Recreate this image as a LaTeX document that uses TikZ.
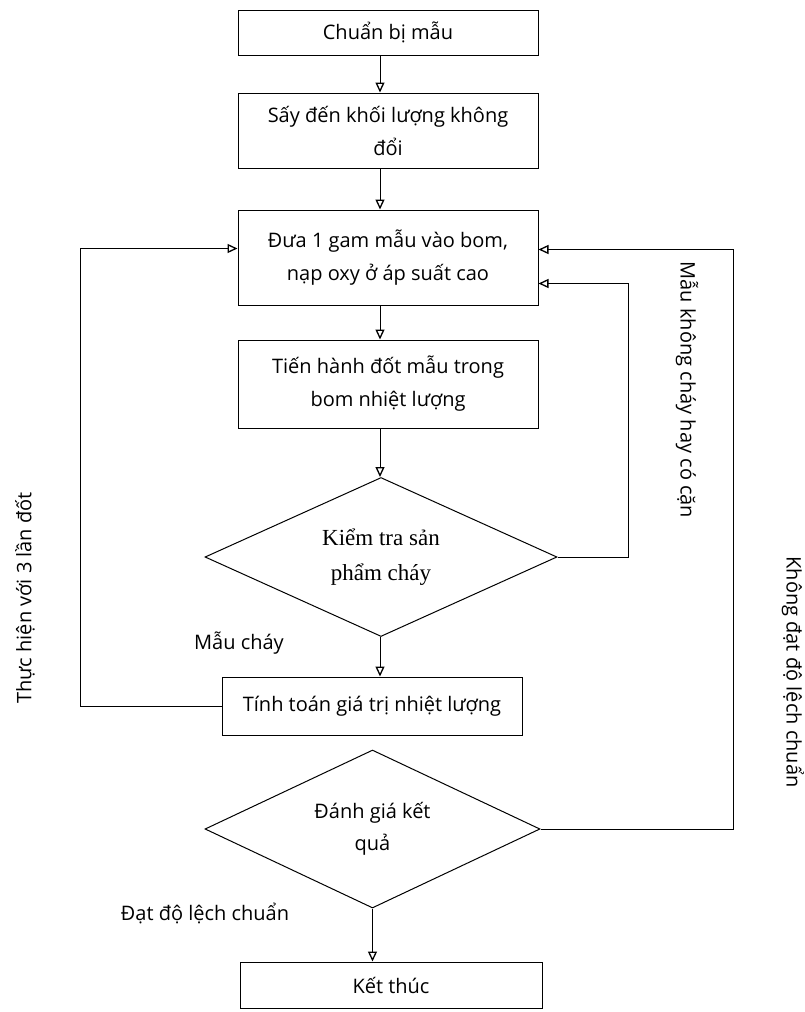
\documentclass[tikz,border=0pt]{standalone}
\usepackage{fontspec}
\setmainfont{Open Sans}
\newfontfamily\serifvn{Liberation Serif}
\usetikzlibrary{arrows.meta, positioning, shapes.geometric}

\begin{document}
\begin{tikzpicture}[
  x=1pt, y=-1pt,
  box/.style={rectangle, draw, line width=1pt, minimum width=300pt, align=center,
    font=\fontsize{20}{33}\selectfont},
  decision/.style={diamond, draw, line width=1pt, aspect=2.2, inner sep=0pt, align=center},
  flow/.style={-{Triangle[open, length=10pt, width=9pt, line width=1.3pt]}, line width=1pt},
  note/.style={font=\fontsize{20}{22}\selectfont}
]
\useasboundingbox (0,0) rectangle (804,1012);

% main column
\node[box, minimum height=45pt] (prep) at (388,32.5) {Chuẩn bị mẫu};
\node[box, minimum height=75pt] (dry) at (388,130.5) {Sấy đến khối lượng không\\đổi};
\node[box, minimum height=95pt] (load) at (388,257.5) {Đưa 1 gam mẫu vào bom,\\nạp oxy ở áp suất cao};
\node[box, minimum height=88pt] (burn) at (388,384) {Tiến hành đốt mẫu trong\\bom nhiệt lượng};
\node[decision, minimum width=352pt, minimum height=159pt,
  font=\serifvn\fontsize{23}{35}\selectfont] (check) at (381,557) {Kiểm tra sản\\phẩm cháy};
\node[box, minimum height=58pt] (calc) at (372,706) {Tính toán giá trị nhiệt lượng};
\node[decision, minimum width=335pt, minimum height=158pt,
  font=\fontsize{20}{32}\selectfont] (eval) at (372.5,829) {Đánh giá kết\\quả};
\node[box, minimum width=302pt, minimum height=46pt] (end) at (391,985) {Kết thúc};

\coordinate (axis) at (380,0);

\draw[flow] (prep.south -| axis) -- (dry.north -| axis);
\draw[flow] (dry.south -| axis) -- (load.north -| axis);
\draw[flow] (load.south -| axis) -- (burn.north -| axis);
\draw[flow] (burn.south -| axis) -- (check.north -| axis);
\draw[flow] (check.south -| axis) -- (calc.north -| axis);
\draw[flow] (eval.south) -- (end.north -| eval.south);

% feedback loops
\draw[flow] (calc.west) -- (80,706) |- ([yshift=9pt]load.west);
\draw[flow] (check.east) -- (628,557) |- ([yshift=-26pt]load.east);
\draw[flow] (eval.east) -- (733,829) |- ([yshift=8pt]load.east);

% labels
\node[note] (burned) at (239,643) {Mẫu cháy};
\node[note] (passed) at (205,913) {Đạt độ lệch chuẩn};
\node[note, rotate=90] (repeat) at (25,598) {Thực hiện với 3 lần đốt};
\node[note, rotate=-90] (residue) at (687,390) {Mẫu không cháy hay có cặn};
\node[note, rotate=-90] (failed) at (793,672) {Không đạt độ lệch chuẩn};
\end{tikzpicture}
\end{document}
